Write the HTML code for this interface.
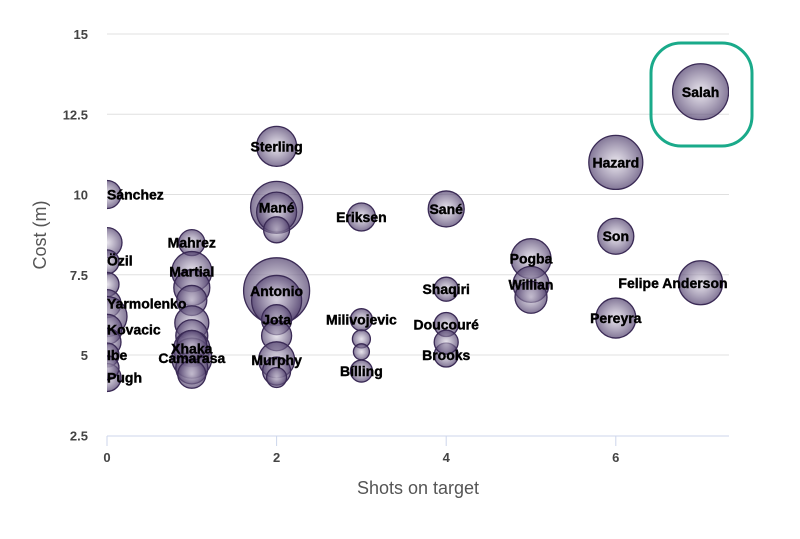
<!DOCTYPE html>
<html><head><meta charset="utf-8"><style>
body{margin:0;background:#fff;}
svg{display:block;font-family:"Liberation Sans",sans-serif;}
</style></head><body>
<svg id="chart" width="800" height="539">
<defs>
<radialGradient id="bg" cx="50%" cy="50%" r="50%">
<stop offset="0%" stop-color="#d8d2e0" stop-opacity="0.6"/>
<stop offset="100%" stop-color="#4e3d6b" stop-opacity="0.7"/>
</radialGradient>
<clipPath id="plotclip"><rect x="107" y="15" width="622" height="421"/></clipPath>
</defs>
<g id="grid"></g>
<g id="axes"></g>
<g id="bubbles" clip-path="url(#plotclip)"></g>
<g id="labels"></g>
<rect x="651" y="43" width="101" height="103" rx="30" fill="none" stroke="#1aaa8a" stroke-width="3"/>
<text x="418" y="494" text-anchor="middle" font-size="18" fill="#555">Shots on target</text>
<text transform="translate(46,235) rotate(-90)" text-anchor="middle" font-size="18" fill="#555">Cost (m)</text>
</svg>
<script>
const shots=[7,6,6,6,7,5,5,5,4,4,4,4,4,3,3,3,3,3,2,2,2,2,2,2,2,2,2,2,2,1,1,1,1,1,1,1,1,1,1,1,0,0,0,0,0,0,0,0,0,0,0];
const cost=[13.2,11.0,8.7,6.15,7.25,8.0,7.2,6.8,7.05,5.95,5.0,5.4,9.55,9.3,6.1,5.5,5.1,4.5,11.5,9.6,9.45,8.9,7.0,6.7,6.1,5.6,4.85,4.5,4.3,8.5,7.6,7.1,6.7,6.0,5.6,5.2,4.9,4.6,5.3,4.4,10.0,8.5,7.9,7.2,6.6,6.2,5.8,5.4,5.0,4.3,4.6];
const size=[28,27,18,20,22,20,18,16,12,12,12,12,18,14,11,9,8,11,20,26,20,13,33,25,15,15,18,14,10,13,20,18,15,17,16,18,20,16,15,14,14,15,12,12,14,20,15,14,12,14,12];
const names=["Salah","Hazard","Son","Pereyra","Felipe Anderson","Pogba","Willian","","Shaqiri","Doucouré","Brooks","","Sané","Eriksen","Milivojevic","","","Bílling","Sterling","Mané","","","Antonio","","Jota","","Murphy","","","Mahrez","Martial","","","","","Xhaka","Camarasa","","","","Sánchez","Özil","","","Yarmolenko","","Kovacic","","Ibe","Pugh",""];
const labelDy=[0,0,0,0,0,0,0,0,0,0,0,0,0,0,0,0,0,0,0,0,0,0,0,0,0,0,0,0,0,0,0,0,0,0,0,0,0,0,0,0,0,18,0,0,0,0,0,0,0,0,0];
const xTicks=[0,2,4,6];
const yTicks=[2.5,5,7.5,10,12.5,15];
const NS="http://www.w3.org/2000/svg";
const xs=v=>107+v*84.8;
const ys=v=>355-(v-5)*32.1;
function mk(t,a,p){const e=document.createElementNS(NS,t);for(const k in a)e.setAttribute(k,a[k]);p.appendChild(e);return e;}
const grid=document.getElementById('grid'),axes=document.getElementById('axes');
yTicks.forEach(t=>{
 if(t>2.5){const l=mk('line',{x1:107,x2:729,y1:ys(t),y2:ys(t),stroke:'#e0e0e0','stroke-width':1},grid);
 
 }
 const tx=mk('text',{x:88,y:ys(t)+5,'text-anchor':'end','font-size':13,'font-weight':'bold',fill:'#444'},axes);
 tx.textContent=t;
 
 
});
const ax=mk('line',{x1:107,x2:729,y1:436,y2:436,stroke:'#ccd6eb','stroke-width':1},axes);


xTicks.forEach(t=>{
 const tk=mk('line',{x1:xs(t),x2:xs(t),y1:436,y2:446,stroke:'#ccd6eb'},axes);
 
 
 const tx=mk('text',{x:xs(t),y:462,'text-anchor':'middle','font-size':13,'font-weight':'bold',fill:'#444'},axes);
 tx.textContent=t;
 
 
});
const bg=document.getElementById('bubbles'),lg=document.getElementById('labels');
shots.forEach((s,i)=>{
 const c=mk('circle',{cx:xs(s),cy:ys(cost[i]),r:size[i],fill:'url(#bg)',stroke:'#3a2a55','stroke-width':1.3},bg);
 
 
});
shots.forEach((s,i)=>{
 if(!names[i])return;
 let x=xs(s),anchor='middle';
 if(s===0){anchor='start';x=107;}
 if(names[i]==='Felipe Anderson'){x=673;}
 const t=mk('text',{x:x,y:ys(cost[i])+5+labelDy[i],'text-anchor':anchor,'font-size':14,'font-weight':'bold',fill:'#000',stroke:'#000','stroke-width':0.4},lg);
 t.textContent=names[i];
 
 
});
</script>
</body></html>
